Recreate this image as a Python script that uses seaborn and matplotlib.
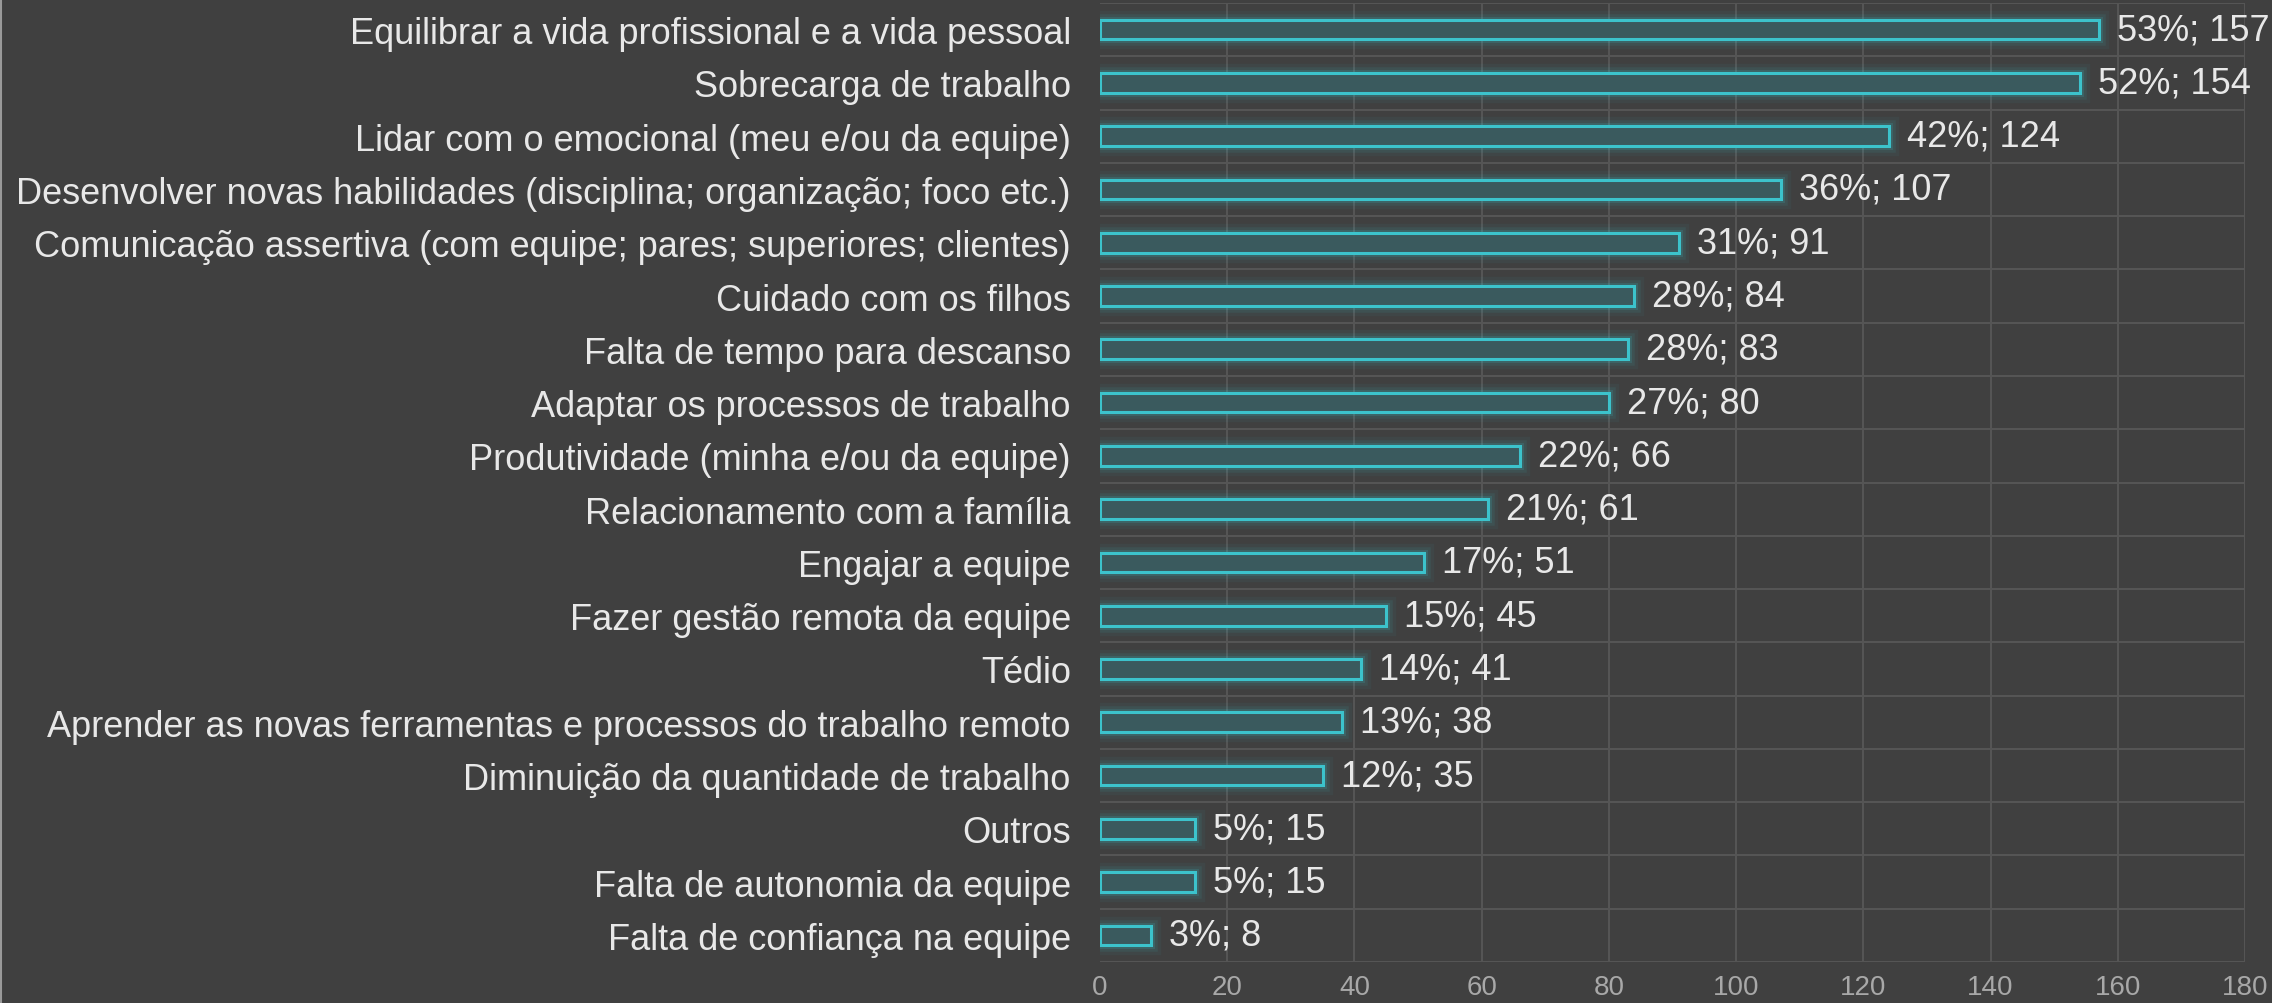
import matplotlib
matplotlib.use("Agg")
import matplotlib.pyplot as plt
import matplotlib.patheffects as pe
from matplotlib.lines import Line2D
import seaborn as sns
import pandas as pd

categories = [
    "Equilibrar a vida profissional e a vida pessoal",
    "Sobrecarga de trabalho",
    "Lidar com o emocional (meu e/ou da equipe)",
    "Desenvolver novas habilidades (disciplina; organização; foco etc.)",
    "Comunicação assertiva (com equipe; pares; superiores; clientes)",
    "Cuidado com os filhos",
    "Falta de tempo para descanso",
    "Adaptar os processos de trabalho",
    "Produtividade (minha e/ou da equipe)",
    "Relacionamento com a família",
    "Engajar a equipe",
    "Fazer gestão remota da equipe",
    "Tédio",
    "Aprender as novas ferramentas e processos do trabalho remoto",
    "Diminuição da quantidade de trabalho",
    "Outros",
    "Falta de autonomia da equipe",
    "Falta de confiança na equipe",
]
counts = [157, 154, 124, 107, 91, 84, 83, 80, 66, 61, 51, 45, 41, 38, 35, 15, 15, 8]
percents = [53, 52, 42, 36, 31, 28, 28, 27, 22, 21, 17, 15, 14, 13, 12, 5, 5, 3]
x_ticks = [0, 20, 40, 60, 80, 100, 120, 140, 160, 180]

BG = "#404040"
GRID = "#555555"
CYAN = "#3cc3cc"
FILL = "#3a5a5e"
TEXT = "#e8e8e8"
TICK = "#a8a8a8"

sns.set_style("dark")
plt.rcParams["font.family"] = ["Liberation Sans", "DejaVu Sans"]

df = pd.DataFrame({"cat": categories, "count": counts})

fig = plt.figure(figsize=(22.72, 10.04), dpi=100, facecolor=BG)
ax = fig.add_axes([1100 / 2272, 1 - 963 / 1004, (2245 - 1100) / 2272, (963 - 4) / 1004])
ax.set_facecolor(BG)

sns.barplot(data=df, x="count", y="cat", orient="h", ax=ax, width=0.37,
            color=FILL, edgecolor=CYAN, linewidth=2.2, saturation=1)

glow = [
    pe.Stroke(linewidth=14, foreground=CYAN, alpha=0.05),
    pe.Stroke(linewidth=9, foreground=CYAN, alpha=0.09),
    pe.Stroke(linewidth=5, foreground=CYAN, alpha=0.16),
    pe.Normal(),
]
for p in ax.patches:
    p.set_path_effects(glow)

ax.set_xlim(0, 180)
ax.set_ylim(len(categories) - 0.5, -0.5)
ax.set_xticks(x_ticks)
ax.set_xticklabels([str(t) for t in x_ticks], color=TICK, fontsize=20)
ax.tick_params(axis="x", length=0, pad=9)
ax.tick_params(axis="y", length=0, pad=21, labelsize=26, labelcolor=TEXT)
ax.set_xlabel("")
ax.set_ylabel("")

# grid
ax.grid(False)
for t in x_ticks[1:]:
    ax.axvline(t, color=GRID, lw=1.5, zorder=0)
for b in range(len(categories) + 1):
    ax.axhline(b - 0.5, color=GRID, lw=1.5, zorder=0)
for s in ax.spines.values():
    s.set_visible(False)

for i, (c, pc) in enumerate(zip(counts, percents)):
    ax.annotate(f"{pc}%; {c}", xy=(c, i), xytext=(18, 0), textcoords="offset pixels",
                va="center", ha="left", fontsize=26, color=TEXT, annotation_clip=False)

fig.add_artist(Line2D([0.5 / 2272, 0.5 / 2272], [0, 1], color="#9a9a9a", lw=1.5))

fig.savefig("out.png", dpi=100, facecolor=BG)
